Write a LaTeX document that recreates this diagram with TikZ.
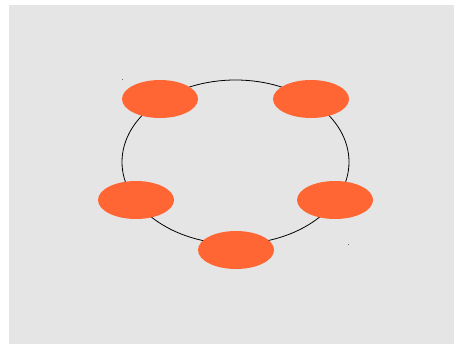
\documentclass[tikz,border=0pt]{standalone}
\usetikzlibrary{shapes.geometric}
\definecolor{bggray}{RGB}{229,229,229}
\definecolor{blob}{RGB}{255,102,51}
\tikzset{
  blobnode/.style={ellipse, fill=blob, draw=none, minimum width=76pt, minimum height=38pt, inner sep=0pt},
  dotmark/.style={fill=gray!80!black}
}
\begin{document}
\begin{tikzpicture}[x=1pt,y=-1pt]
\useasboundingbox (0,0) rectangle (454,344);
\fill[white] (0,0) rectangle (454,344);
\fill[bggray] (9,5) rectangle (454,344);
\draw[black, line width=0.8pt] (235.5,162) ellipse [x radius=113.5, y radius=82];
\node[blobnode] (tl) at (160,99) {};
\node[blobnode] (tr) at (311,99) {};
\node[blobnode] (l) at (136,200) {};
\node[blobnode] (r) at (335,200) {};
\node[blobnode] (b) at (236,250) {};
\fill[dotmark] (122,79.5) rectangle (123.2,80.5);
\fill[dotmark] (348,243.5) rectangle (349,244.8);
\end{tikzpicture}
\end{document}
